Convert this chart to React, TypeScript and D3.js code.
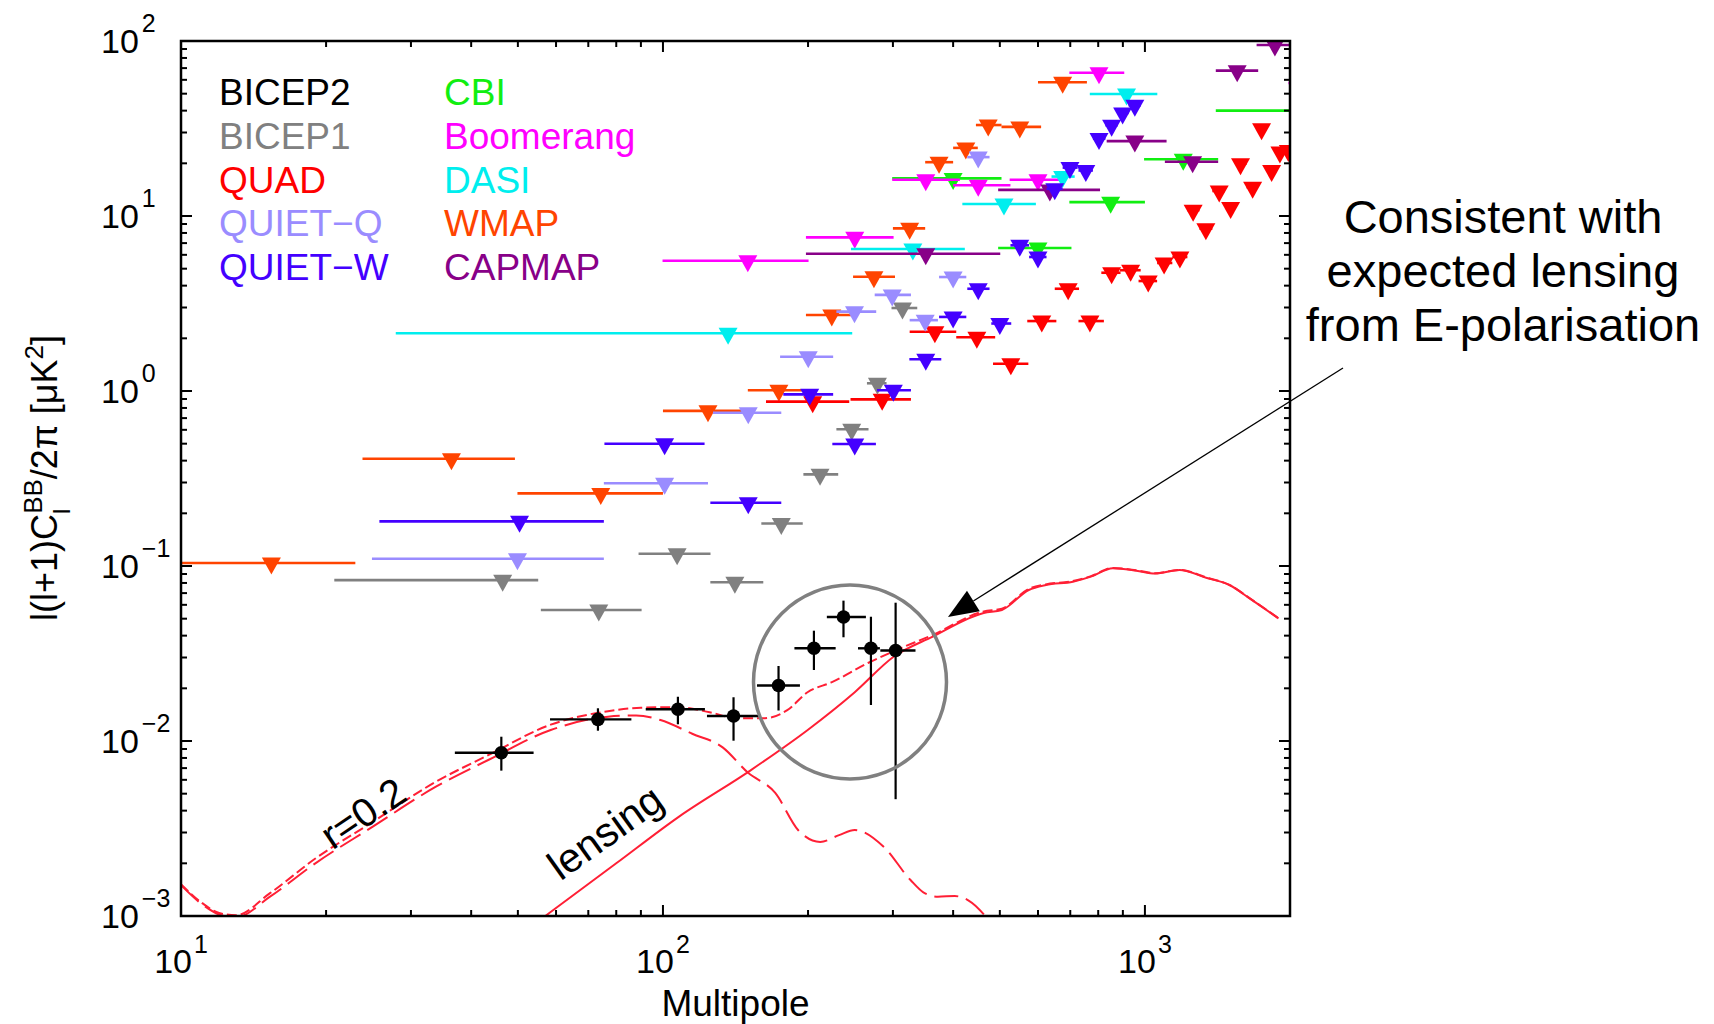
import React, { useRef, useEffect } from 'react';
import * as d3 from 'd3';

// upper limits, one row per bandpower: [ell, ell low, ell high, 95% limit in uK^2]
const wmap = [
  [15.4, 10, 23, 0.104],
  [36.4, 23.8, 49.3, 0.41],
  [74.3, 49.9, 100, 0.26],
  [124, 100, 154, 0.77],
  [174, 150, 200, 1.01],
  [224, 198, 249, 2.72],
  [274, 248, 303, 4.5],
  [325, 300, 350, 8.5],
  [374, 350, 400, 20.3],
  [425, 400, 450, 24.5],
  [473, 446, 504, 33.1],
  [550, 504, 609, 32.3],
  [675, 600, 758, 58.1],
];

const quad = [
  [204.5, 163.6, 243.5, 0.869],
  [285, 245, 327, 0.896],
  [366.6, 325, 406, 2.18],
  [448, 406, 489, 2.03],
  [527, 484, 573, 1.43],
  [611, 570, 655, 2.51],
  [693, 650, 730, 3.84],
  [769, 728, 822, 2.51],
  [853, 812, 890, 4.74],
  [934, 888, 980, 4.9],
  [1016, 970, 1060, 4.25],
  [1096, 1060, 1140, 5.39],
  [1182, 1140, 1225, 5.83],
  [1259, 1225, 1298, 10.8],
  [1338, 1298, 1380, 8.46],
  [1426, 1380, 1466, 13.9],
  [1506, 1466, 1545, 11.2],
  [1579, 1545, 1625, 19.9],
  [1673, 1625, 1710, 14.6],
  [1746, 1710, 1790, 31.5],
  [1832, 1790, 1870, 18.2],
  [1906, 1870, 1945, 23.2],
  [1984, 1945, 2025, 23.7],
];

const quietW = [
  [50.4, 25.8, 75.4, 0.18],
  [100.8, 75.6, 122, 0.5],
  [150.3, 125.4, 176, 0.23],
  [201.6, 177.7, 225.5, 0.957],
  [250, 224.6, 276.6, 0.498],
  [300.6, 278, 327, 1.01],
  [351, 324.5, 378, 1.52],
  [400, 374, 426, 2.65],
  [451, 428, 476, 3.84],
  [500, 480, 528, 2.43],
  [550, 526, 575, 6.8],
  [600, 575, 625, 5.83],
  [650, 625, 675, 14.3],
  [699, 675, 725, 18.9],
  [754, 728, 780, 18.2],
  [803, 780, 828, 27.7],
  [853, 828, 878, 33],
  [899, 878, 925, 38.8],
  [953, 925, 980, 42.9],
];

const quietQ = [
  [49.9, 24.9, 75.4, 0.11],
  [100.8, 75.4, 124, 0.297],
  [150.3, 127, 176, 0.751],
  [200.2, 175, 225.5, 1.57],
  [249.7, 229, 277, 2.84],
  [299, 275, 327, 3.54],
  [350, 325, 372, 2.54],
  [400, 374, 426, 4.48],
  [451, 428, 476, 21.7],
];

const bicep1 = [
  [46.5, 20.8, 55.1, 0.083],
  [73.6, 55.8, 90.3, 0.056],
  [107, 89, 125.5, 0.1175],
  [141, 125.4, 161.5, 0.0807],
  [176, 160, 195, 0.175],
  [211.8, 195.6, 231, 0.334],
  [246.4, 229, 267, 0.604],
  [278.6, 265, 291, 1.107],
  [314, 298, 337, 2.98],
];

const boomerang = [
  [150, 99.8, 200.5, 5.55],
  [250, 198, 301, 7.55],
  [351, 299, 413, 16.1],
  [451, 400, 526, 15.0],
  [600, 524, 674, 16.1],
  [803, 697, 906, 65.9],
  [2300, 1985, 2700, 57.5],
];

const dasi = [
  [136.5, 27.9, 247, 2.14],
  [330, 245.5, 423, 6.48],
  [510, 418, 594, 11.7],
  [675, 640, 715, 16.8],
  [916, 768.5, 1061, 49.8],
];

const cbi = [
  [400, 299, 504, 16.4],
  [600, 496, 704, 6.56],
  [849, 697, 1000, 12.0],
  [1201, 996, 1419, 21.1],
  [2300, 1403, 2700, 40],
];

const capmap = [
  [351, 198, 501, 6.09],
  [635, 496, 807, 14.1],
  [953, 833, 1109, 26.8],
  [1256, 1100, 1419, 20.4],
  [1554, 1403, 1718, 67.7],
  [1861, 1705, 2050, 94.9],
];

// BICEP2 detections: [ell, ell low, ell high, value, value low, value high]
const bicep2 = [
  [46.2, 37.0, 53.9, 0.00857, 0.00677, 0.01058],
  [73.3, 58.3, 86.0, 0.0133, 0.01145, 0.01538],
  [107.4, 92.1, 122.2, 0.01518, 0.01246, 0.0179],
  [140.1, 123.4, 158.9, 0.0139, 0.01004, 0.01778],
  [173.7, 156.7, 192.4, 0.02075, 0.01494, 0.02683],
  [205.7, 187.4, 228.2, 0.03386, 0.02546, 0.04269],
  [236.9, 218.8, 263.7, 0.05114, 0.03915, 0.0634],
  [270.1, 253.9, 281.9, 0.03386, 0.01606, 0.0513],
  [303.9, 282.5, 334.2, 0.0329, 0.00465, 0.0617],
];

// model spectra: [ell, value]
const tensorR02 = [
  [10, 0.0015], [11, 0.00118], [12, 0.00102], [13, 0.00098], [15.3, 0.00129],
  [19, 0.002], [25, 0.00324], [33.8, 0.00548], [43.4, 0.00779], [58.5, 0.01156],
  [76.9, 0.01377], [88, 0.014], [98.8, 0.01318], [115, 0.011], [133, 0.0092],
  [150, 0.0066], [171, 0.00505], [190.7, 0.0031], [212, 0.00265], [232, 0.0029],
  [250, 0.0031], [287, 0.00249], [326, 0.00161], [349, 0.00135], [372, 0.00129],
  [403, 0.0013], [430, 0.00123], [466, 0.001], [500, 0.00075],
];

const lensing = [
  [57, 0.001], [80, 0.002], [108, 0.0037], [152, 0.0068], [200, 0.0116],
  [250, 0.019], [301, 0.0303], [362, 0.0394], [463, 0.0539], [505, 0.0561],
  [574, 0.0729], [623, 0.0779], [709, 0.0813], [773, 0.0869], [858, 0.097],
  [960, 0.094], [1050, 0.0905], [1180, 0.0948], [1345, 0.0854], [1497, 0.0779],
  [1666, 0.064], [1893, 0.0502],
];

const totalR02 = [
  [10, 0.00152], [11, 0.0012], [12, 0.00104], [13, 0.00101], [15.3, 0.00135],
  [19, 0.00213], [25, 0.00345], [33.8, 0.00585], [43.4, 0.0083], [58.5, 0.0124],
  [76.9, 0.0148], [90, 0.0155], [107.4, 0.0156], [125, 0.0146], [142.4, 0.0135],
  [162.8, 0.0135], [181.1, 0.015], [199.5, 0.019], [224.2, 0.0217], [266.3, 0.0279],
  [302, 0.0327], [363, 0.0404], [463, 0.055], [505, 0.057], [574, 0.074],
  [623, 0.0785], [709, 0.082], [773, 0.0875], [858, 0.0975], [960, 0.0945],
  [1050, 0.091], [1180, 0.095], [1345, 0.0858], [1497, 0.078], [1666, 0.0642],
  [1893, 0.0503],
];

const legendLeft = ['BICEP2', 'BICEP1', 'QUAD', 'QUIET\u2212Q', 'QUIET\u2212W'];
const legendRight = ['CBI', 'Boomerang', 'DASI', 'WMAP', 'CAPMAP'];
const noteLines = ['Consistent with', 'expected lensing', 'from E-polarisation'];

const COLORS: Record<string, string> = {
  BICEP2: '#000000',
  BICEP1: '#808080',
  QUAD: '#ff0000',
  'QUIET\u2212Q': '#9a8cff',
  'QUIET\u2212W': '#4400ff',
  CBI: '#11ee11',
  Boomerang: '#ff00ff',
  DASI: '#00eeee',
  WMAP: '#ff4400',
  CAPMAP: '#880088',
};
const CURVE = '#ff1f35';
const FONT = '"Liberation Sans", Arial, Helvetica, sans-serif';

const App = () => {
  const svgRef = useRef<SVGSVGElement>(null);

  useEffect(() => {
    const svg = d3.select(svgRef.current);
    svg.selectAll('*').remove();

    const W = 1714;
    const H = 1024;
    const box = { left: 181, right: 1290, top: 41, bottom: 916 };

    const x = d3.scaleLog().domain([10, 2000]).range([box.left, box.right]);
    const y = d3.scaleLog().domain([1e-3, 1e2]).range([box.bottom, box.top]);

    svg.append('rect').attr('width', W).attr('height', H).attr('fill', '#fff');

    svg.append('defs').append('clipPath').attr('id', 'plotclip')
      .append('rect')
      .attr('x', box.left).attr('y', box.top)
      .attr('width', box.right - box.left).attr('height', box.bottom - box.top);

    const plot = svg.append('g').attr('clip-path', 'url(#plotclip)');

    // model curves
    const line = d3.line<number[]>()
      .x((d) => x(d[0]))
      .y((d) => y(d[1]))
      .curve(d3.curveMonotoneX);

    plot.append('path').datum(lensing).attr('d', line)
      .attr('fill', 'none').attr('stroke', CURVE).attr('stroke-width', 2);
    plot.append('path').datum(tensorR02).attr('d', line)
      .attr('fill', 'none').attr('stroke', CURVE).attr('stroke-width', 2)
      .attr('stroke-dasharray', '24,8');
    plot.append('path').datum(totalR02).attr('d', line)
      .attr('fill', 'none').attr('stroke', CURVE).attr('stroke-width', 2)
      .attr('stroke-dasharray', '10,4');

    // upper limits
    const limits: [string, number[][]][] = [
      ['CBI', cbi],
      ['Boomerang', boomerang],
      ['DASI', dasi],
      ['WMAP', wmap],
      ['CAPMAP', capmap],
      ['QUAD', quad],
      ['BICEP1', bicep1],
      ['QUIET\u2212Q', quietQ],
      ['QUIET\u2212W', quietW],
    ];
    limits.forEach(([name, rows]) => {
      const g = plot.append('g');
      const c = COLORS[name];
      g.selectAll('line').data(rows).join('line')
        .attr('x1', (d) => x(d[1])).attr('x2', (d) => x(d[2]))
        .attr('y1', (d) => y(d[3])).attr('y2', (d) => y(d[3]))
        .attr('stroke', c).attr('stroke-width', 2.6);
      g.selectAll('path').data(rows).join('path')
        .attr('d', (d) => {
          const cx = x(d[0]);
          const cy = y(d[3]);
          return `M${cx - 9.5},${cy - 5.5}L${cx + 9.5},${cy - 5.5}L${cx},${cy + 11.5}Z`;
        })
        .attr('fill', c);
    });

    // BICEP2 points
    const b2 = plot.append('g');
    b2.selectAll('line.h').data(bicep2).join('line').attr('class', 'h')
      .attr('x1', (d) => x(d[1])).attr('x2', (d) => x(d[2]))
      .attr('y1', (d) => y(d[3])).attr('y2', (d) => y(d[3]))
      .attr('stroke', '#000').attr('stroke-width', 2.4);
    b2.selectAll('line.v').data(bicep2).join('line').attr('class', 'v')
      .attr('x1', (d) => x(d[0])).attr('x2', (d) => x(d[0]))
      .attr('y1', (d) => y(d[4])).attr('y2', (d) => y(d[5]))
      .attr('stroke', '#000').attr('stroke-width', 2.2);
    b2.selectAll('circle').data(bicep2).join('circle')
      .attr('cx', (d) => x(d[0])).attr('cy', (d) => y(d[3])).attr('r', 6.8)
      .attr('fill', '#000');

    // ticks on all four sides, pointing inward
    const isMajor = (t: number) => Math.abs(Math.log10(t) - Math.round(Math.log10(t))) < 1e-6;
    const ticks = svg.append('g').attr('stroke', '#000').attr('stroke-width', 2);
    x.ticks().forEach((t) => {
      const len = isMajor(t) ? 11 : 6;
      const px = x(t);
      if (px <= box.left + 1 || px >= box.right - 1) return;
      ticks.append('line').attr('x1', px).attr('x2', px).attr('y1', box.bottom).attr('y2', box.bottom - len);
      ticks.append('line').attr('x1', px).attr('x2', px).attr('y1', box.top).attr('y2', box.top + len);
    });
    y.ticks().forEach((t) => {
      const len = isMajor(t) ? 11 : 6;
      const py = y(t);
      if (py <= box.top + 1 || py >= box.bottom - 1) return;
      ticks.append('line').attr('x1', box.left).attr('x2', box.left + len).attr('y1', py).attr('y2', py);
      ticks.append('line').attr('x1', box.right).attr('x2', box.right - len).attr('y1', py).attr('y2', py);
    });

    svg.append('rect')
      .attr('x', box.left).attr('y', box.top)
      .attr('width', box.right - box.left).attr('height', box.bottom - box.top)
      .attr('fill', 'none').attr('stroke', '#000').attr('stroke-width', 2.5);

    const expText = (k: number) => (k < 0 ? `\u2212${-k}` : `${k}`);

    // y tick labels
    [-3, -2, -1, 0, 1, 2].forEach((k) => {
      const t = svg.append('text')
        .attr('x', 101).attr('y', y(Math.pow(10, k)) + 12)
        .attr('font-family', FONT).attr('font-size', 34).attr('fill', '#000');
      t.append('tspan').text('10');
      t.append('tspan').attr('dx', 3).attr('dy', -21).attr('font-size', 25).text(expText(k));
    });

    // x tick labels
    [1, 2, 3].forEach((k) => {
      const t = svg.append('text')
        .attr('x', x(Math.pow(10, k))).attr('y', 973)
        .attr('text-anchor', 'middle')
        .attr('font-family', FONT).attr('font-size', 34).attr('fill', '#000');
      t.append('tspan').text('10');
      t.append('tspan').attr('dx', 2).attr('dy', -20).attr('font-size', 25).text(expText(k));
    });

    svg.append('text')
      .attr('x', (box.left + box.right) / 2).attr('y', 1016)
      .attr('text-anchor', 'middle')
      .attr('font-family', FONT).attr('font-size', 37).attr('fill', '#000')
      .text('Multipole');

    // y axis title
    const yl = svg.append('text')
      .attr('transform', 'translate(57,478) rotate(-90)')
      .attr('text-anchor', 'middle')
      .attr('font-family', FONT).attr('font-size', 36).attr('fill', '#000');
    yl.append('tspan').text('l(l+1)C');
    yl.append('tspan').attr('font-size', 24).attr('dy', 13).text('l');
    yl.append('tspan').attr('font-size', 26).attr('dx', -5.3).attr('dy', -28).text('BB');
    yl.append('tspan').attr('dy', 15).text('/2\u03c0 [\u03bcK');
    yl.append('tspan').attr('font-size', 26).attr('dy', -14).text('2');
    yl.append('tspan').attr('dy', 14).text(']');

    // legend
    const legend = svg.append('g').attr('font-family', FONT).attr('font-size', 37);
    legendLeft.forEach((name, i) => {
      legend.append('text').attr('x', 219).attr('y', 105 + i * 43.75)
        .attr('fill', COLORS[name]).text(name);
    });
    legendRight.forEach((name, i) => {
      legend.append('text').attr('x', 444).attr('y', 105 + i * 43.75)
        .attr('fill', COLORS[name]).text(name);
    });

    // curve labels
    svg.append('text')
      .attr('transform', 'translate(363,813) rotate(-34)')
      .attr('text-anchor', 'middle').attr('dy', '0.35em')
      .attr('font-family', FONT).attr('font-size', 40).attr('fill', '#000')
      .text('r=0.2');
    svg.append('text')
      .attr('transform', 'translate(605,832) rotate(-35.5)')
      .attr('text-anchor', 'middle').attr('dy', '0.35em')
      .attr('font-family', FONT).attr('font-size', 41).attr('fill', '#000')
      .text('lensing');

    // highlight ring around high-ell BICEP2 points
    svg.append('ellipse')
      .attr('cx', 850).attr('cy', 682).attr('rx', 96.5).attr('ry', 97)
      .attr('fill', 'none').attr('stroke', '#808080').attr('stroke-width', 3.5);

    // annotation
    const note = svg.append('text')
      .attr('text-anchor', 'middle')
      .attr('font-family', FONT).attr('font-size', 47).attr('fill', '#000');
    noteLines.forEach((s, i) => {
      note.append('tspan').attr('x', 1503).attr('y', 233 + i * 54).text(s);
    });

    const start = [1343, 368];
    const tip = [948, 617];
    const dx = tip[0] - start[0];
    const dy = tip[1] - start[1];
    const len = Math.hypot(dx, dy);
    const ux = dx / len;
    const uy = dy / len;
    const headLen = 30;
    const headHalf = 12;
    const bx = tip[0] - ux * headLen;
    const by = tip[1] - uy * headLen;
    svg.append('line')
      .attr('x1', start[0]).attr('y1', start[1]).attr('x2', bx).attr('y2', by)
      .attr('stroke', '#000').attr('stroke-width', 1.3);
    svg.append('path')
      .attr('d', `M${tip[0]},${tip[1]}L${bx - uy * headHalf},${by + ux * headHalf}L${bx + uy * headHalf},${by - ux * headHalf}Z`)
      .attr('fill', '#000');
  }, []);

  return (
    <svg
      ref={svgRef}
      width={1714}
      height={1024}
      style={{ position: 'absolute', left: 0, top: 0, display: 'block' }}
    />
  );
};

export default App;
